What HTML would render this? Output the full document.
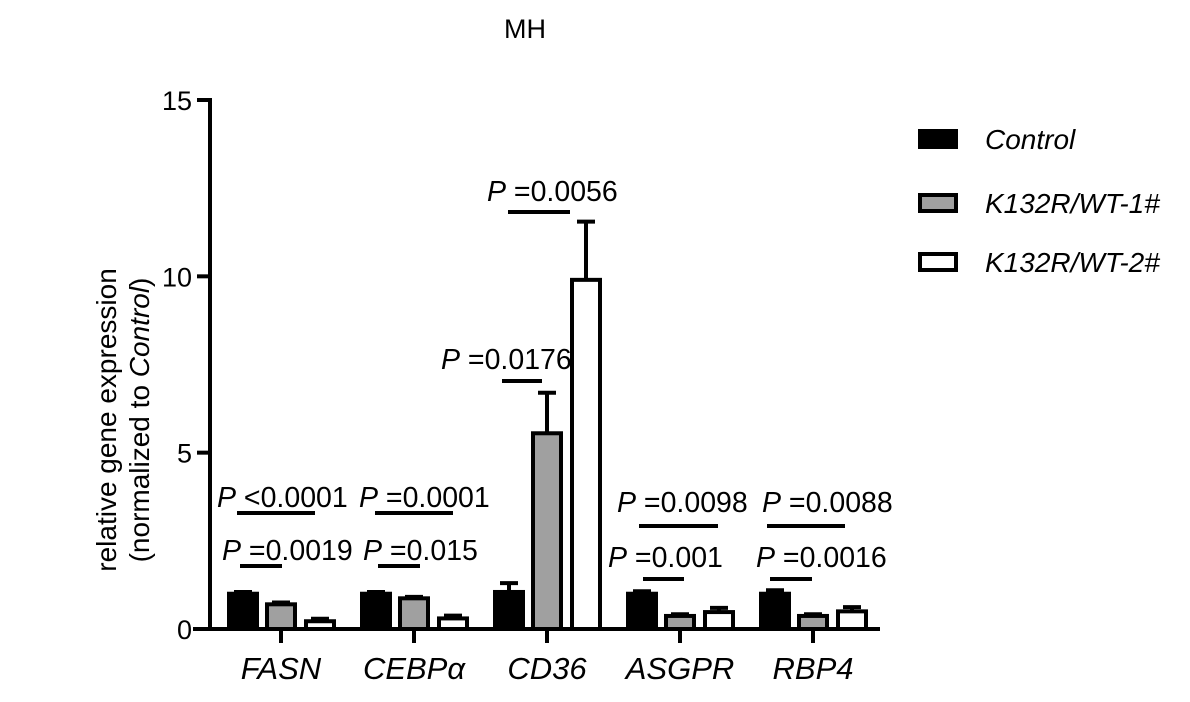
<!DOCTYPE html>
<html><head><meta charset="utf-8"><style>body{margin:0;background:#fff}svg{font-family:"Liberation Sans",Arial,sans-serif}</style></head>
<body>
<svg id="chart" width="1190" height="697" xmlns="http://www.w3.org/2000/svg"></svg>
<script>
const categories = ["FASN","CEBPα","CD36","ASGPR","RBP4"];
const seriesNames = ["Control","K132R/WT-1#","K132R/WT-2#"];
const controlVals = [1.0,1.0,1.05,1.0,1.0];
const wt1Vals = [0.7,0.87,5.55,0.37,0.37];
const wt2Vals = [0.22,0.3,9.9,0.48,0.5];
const controlErr = [0.05,0.05,0.25,0.07,0.1];
const wt1Err = [0.05,0.04,1.15,0.05,0.05];
const wt2Err = [0.07,0.08,1.65,0.12,0.12];
const yTicks = [0,5,10,15];
const sigLabels = ["P <0.0001","P =0.0019","P =0.0001","P =0.015","P =0.0056","P =0.0176","P =0.0098","P =0.001","P =0.0088","P =0.0016"];

const svg=document.getElementById('chart');
const NS="http://www.w3.org/2000/svg";
function mk(tag,attrs,name,parent){const e=document.createElementNS(NS,tag);for(const k in attrs)e.setAttribute(k,attrs[k]);


(parent||svg).appendChild(e);return e;}
const y0=629, pxPerUnit=(629-100)/15;
function yS(v){return y0-v*pxPerUnit;}
function xS(i){return 281+i*133;}
const fills=["#000","#a0a0a0","#fff"];
const offsets=[-38,0,39];
const vals=[controlVals,wt1Vals,wt2Vals], errs=[controlErr,wt1Err,wt2Err];

let t=mk('text',{x:525,y:38,'font-size':27,'text-anchor':'middle'},'chart-title');t.textContent="MH";
mk('line',{x1:210,y1:98,x2:210,y2:631,stroke:'#000','stroke-width':4},'y-axis');
mk('line',{x1:193,y1:629,x2:880,y2:629,stroke:'#000','stroke-width':4},'x-axis');
yTicks.forEach(v=>{const y=yS(v);
mk('line',{x1:197,y1:y,x2:210,y2:y,stroke:'#000','stroke-width':4},'y-tick');
const l=mk('text',{x:192,y:y+10,'font-size':27,'text-anchor':'end'},'y-tick-label');l.textContent=v;});
const yt=mk('text',{transform:'translate(122,420) rotate(-90)','font-size':28,'text-anchor':'middle'},'y-axis-title');
yt.innerHTML='<tspan x="0" dy="-6">relative gene expression</tspan><tspan x="0" dy="33">(normalized to <tspan font-style="italic">Control</tspan>)</tspan>';
categories.forEach((c,i)=>{const x=xS(i);
mk('line',{x1:x,y1:629,x2:x,y2:643,stroke:'#000','stroke-width':4},'x-tick');
const l=mk('text',{x:x,y:679,'font-size':31,'font-style':'italic','text-anchor':'middle'},'x-tick-label');l.textContent=c;
for(let s=0;s<3;s++){const cx=x+offsets[s],v=vals[s][i],e=errs[s][i];
const top=yS(v),et=yS(v+e);
mk('line',{x1:cx,y1:top,x2:cx,y2:et,stroke:'#000','stroke-width':4},'error-bar');
mk('line',{x1:cx-9,y1:et,x2:cx+9,y2:et,stroke:'#000','stroke-width':4},'error-cap');
mk('rect',{x:cx-14,y:top,width:28,height:y0-top,fill:fills[s],stroke:'#000','stroke-width':4},'bar-'+c+'-'+s);
}});
const sig=[[237,315,513,217,507],[240,282,566,222,560],[375,453,513,359,507],[378,420,566,363,560],
[508,570,212,487,201],[502,542,381,441,369],[639,718,526,617,512],[643,684,579,608,567],[767,845,526,762,512],[770,812,579,756,567]];
sig.forEach((s,k)=>{mk('line',{x1:s[0],y1:s[2],x2:s[1],y2:s[2],stroke:'#000','stroke-width':4},'significance-line');
const tx=mk('text',{x:s[3],y:s[4],'font-size':28.5},'p-value-label');
tx.innerHTML='<tspan font-style="italic">P</tspan> '+sigLabels[k].slice(2).replace('<','&lt;');});
const ly=[139,203,262];
seriesNames.forEach((n,i)=>{mk('rect',{x:920,y:ly[i]-8,width:36,height:16,fill:fills[i],stroke:'#000','stroke-width':4},'legend-swatch');
const l=mk('text',{x:985,y:ly[i]+10,'font-size':28,'font-style':'italic'},'legend-entry');l.textContent=n;});
</script>
</body></html>
